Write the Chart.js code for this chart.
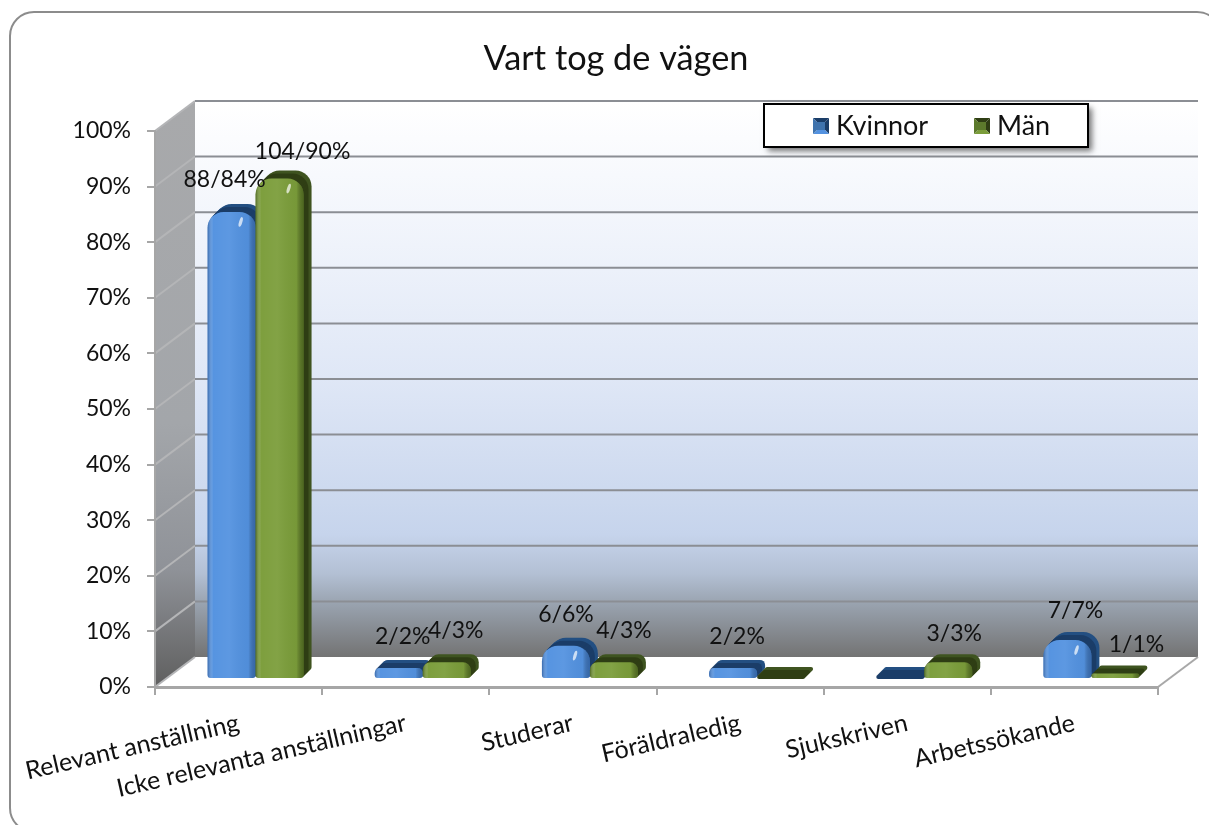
<!DOCTYPE html>
<html>
<head>
<meta charset="utf-8">
<title>Vart tog de vägen</title>
<script src="https://cdn.jsdelivr.net/npm/chart.js@4/dist/chart.umd.min.js"></script>
<style>
    body { margin: 0; background: #fff; }
    canvas { display: block; }
</style>
</head>
<body>
<canvas id="chart" width="1209" height="825"></canvas>
<script>
// data
const categories = ['Relevant anställning', 'Icke relevanta anställningar', 'Studerar', 'Föräldraledig', 'Sjukskriven', 'Arbetssökande'];
const kvinnor = [84, 2, 6, 2, 0, 7];
const man = [90, 3, 3, 0, 3, 1];
const kvinnorLabels = ['88/84%', '2/2%', '6/6%', '2/2%', '', '7/7%'];
const manLabels = ['104/90%', '4/3%', '4/3%', '', '3/3%', '1/1%'];
const yTicks = [0, 10, 20, 30, 40, 50, 60, 70, 80, 90, 100];

// label nudges from the top of each bar, the original labels were moved by hand
const kvinnorNudge = [[10, -40], [21, -39], [17, -39], [21, -39], [0, 0], [25, -37]];
const manNudge = [[40, -35], [26, -40], [27, -40], [0, 0], [23, -37], [38, -37]];

// 3d look
const wallDx = 40, wallDy = -30;
const barDx = 17, barDy = -8;
const depth = 8;
const fontName = 'Lato, Carlito, sans-serif';
const textColor = '#111';

const colors = [
    { front: '#5392e0', edge: 'rgba(30,70,130,0.55)', top: '#234f82', side: '#1b3d68', key: '#3f73ad' },
    { front: '#7b9d3a', edge: 'rgba(40,60,10,0.55)', top: '#3f5420', side: '#2f3e14', key: '#5c7a2c' }
];

function barPath(ctx, x, y, w, h, rTop, rBottom) {
    const max = Math.min(w, h) / 2;
    ctx.beginPath();
    ctx.roundRect(x, y, w, h, [Math.min(rTop, max), Math.min(rTop, max), Math.min(rBottom, max), Math.min(rBottom, max)]);
}

function drawBar(ctx, el, c) {
    const w = el.width;
    const left = el.x - w / 2;
    const flat = el.base - el.y < 1;
    const h = flat ? 4 : el.base - el.y;
    const top = el.base - h;

    // depth: the same outline shifted backwards
    for (let k = depth; k >= 1; k--) {
        ctx.fillStyle = k > depth - 3 ? c.top : c.side;
        barPath(ctx, left + k, top - k, w, h, 16, 3);
        ctx.fill();
    }
    if (flat) {
        // empty bar, only the dark lid shows
        ctx.fillStyle = c.side;
        barPath(ctx, left, top, w, h, 2, 2);
        ctx.fill();
        return;
    }

    el.draw(ctx);

    // round shading on the front
    const shade = ctx.createLinearGradient(left, 0, left + w, 0);
    shade.addColorStop(0, c.edge);
    shade.addColorStop(0.12, 'rgba(255,255,255,0.02)');
    shade.addColorStop(0.45, 'rgba(255,255,255,0.06)');
    shade.addColorStop(0.85, 'rgba(0,0,0,0.03)');
    shade.addColorStop(1, c.edge);
    ctx.fillStyle = shade;
    barPath(ctx, left, top, w, h, 16, 3);
    ctx.fill();

    if (h > 20) {
        ctx.fillStyle = 'rgba(255,255,255,0.7)';
        ctx.beginPath();
        ctx.ellipse(left + w * 0.69, top + 10, 1.6, 5, 0.3, 0, Math.PI * 2);
        ctx.fill();
    }
}

const threeD = {
    id: 'threeD',
    beforeDraw(chart) {
        const { ctx, chartArea: a, scales: { y } } = chart;
        const x0 = a.left, x1 = a.right;
        const bx0 = x0 + wallDx, bx1 = x1 + wallDx;
        const yb = y.getPixelForValue(0), yt = y.getPixelForValue(100);

        ctx.save();
        ctx.fillStyle = '#fff';
        ctx.fillRect(0, 0, chart.width, chart.height);

        // rounded frame of the chart object, it runs off the right and bottom
        ctx.strokeStyle = '#8c8c8c';
        ctx.lineWidth = 2;
        ctx.beginPath();
        ctx.roundRect(10, 12, 1211, 820, 24);
        ctx.stroke();

        // back wall
        const wall = ctx.createLinearGradient(0, yt + wallDy, 0, yb + wallDy);
        wall.addColorStop(0, '#ffffff');
        wall.addColorStop(0.2, '#f3f6fc');
        wall.addColorStop(0.5, '#dfe7f6');
        wall.addColorStop(0.78, '#c6d4ec');
        wall.addColorStop(0.85, '#b3c0d4');
        wall.addColorStop(0.9, '#9ba5b2');
        wall.addColorStop(1, '#737373');
        ctx.fillStyle = wall;
        ctx.fillRect(bx0, yt + wallDy, bx1 - bx0, yb - yt);

        // side wall
        const side = ctx.createLinearGradient(0, yt + wallDy, 0, yb);
        side.addColorStop(0, '#a8a9ab');
        side.addColorStop(0.55, '#a3a6aa');
        side.addColorStop(0.8, '#8f9298');
        side.addColorStop(1, '#5f5f5f');
        ctx.fillStyle = side;
        ctx.beginPath();
        ctx.moveTo(x0, yt);
        ctx.lineTo(bx0, yt + wallDy);
        ctx.lineTo(bx0, yb + wallDy);
        ctx.lineTo(x0, yb);
        ctx.closePath();
        ctx.fill();

        // gridlines over both walls
        ctx.lineWidth = 2;
        yTicks.forEach(v => {
            const py = y.getPixelForValue(v);
            ctx.strokeStyle = '#b4b5b7';
            ctx.beginPath();
            ctx.moveTo(x0, py);
            ctx.lineTo(bx0, py + wallDy);
            ctx.stroke();
            if (v > 0) {
                ctx.strokeStyle = '#8b8e94';
                ctx.beginPath();
                ctx.moveTo(bx0, py + wallDy);
                ctx.lineTo(bx1, py + wallDy);
                ctx.stroke();
            }
        });

        // floor edge on the right
        ctx.strokeStyle = '#a8a8a8';
        ctx.beginPath();
        ctx.moveTo(x1, yb);
        ctx.lineTo(bx1, yb + wallDy);
        ctx.stroke();
        ctx.restore();
    },
    beforeDatasetsDraw(chart) {
        const { ctx } = chart;
        ctx.save();
        ctx.translate(barDx, barDy);
        // blue first so the green bar overlaps it
        [0, 1].forEach(i => {
            const elements = chart.getDatasetMeta(i).data;
            elements.forEach(el => drawBar(ctx, el, colors[i]));
        });
        ctx.restore();

        // data labels
        ctx.save();
        ctx.font = '23px ' + fontName;
        ctx.fillStyle = textColor;
        ctx.textAlign = 'center';
        ctx.textBaseline = 'middle';
        [[kvinnorLabels, kvinnorNudge], [manLabels, manNudge]].forEach((set, i) => {
            chart.getDatasetMeta(i).data.forEach((el, j) => {
                if (set[0][j]) ctx.fillText(set[0][j], el.x + set[1][j][0], el.y + set[1][j][1]);
            });
        });
        ctx.restore();
        return false;
    },
    afterDraw(chart) {
        const { ctx } = chart;
        ctx.save();
        // legend box
        ctx.shadowColor = 'rgba(0,0,0,0.55)';
        ctx.shadowBlur = 6;
        ctx.shadowOffsetX = 4;
        ctx.shadowOffsetY = 4;
        ctx.fillStyle = '#fff';
        ctx.fillRect(764, 104, 324, 43);
        ctx.shadowColor = 'transparent';
        ctx.strokeStyle = '#000';
        ctx.lineWidth = 2;
        ctx.strokeRect(764, 104, 324, 43);

        const keyX = [813, 974];
        ctx.font = '27px ' + fontName;
        ctx.textBaseline = 'middle';
        chart.data.datasets.forEach((ds, i) => {
            const c = colors[i];
            const kx = keyX[i], ky = 118, s = 16, m = s / 2;
            // little pyramid: four sides around the middle of the square
            const corners = [[kx, ky], [kx + s, ky], [kx + s, ky + s], [kx, ky + s]];
            [c.side, c.side, c.front, c.key].forEach((col, n) => {
                const p = corners[n], q = corners[(n + 1) % 4];
                ctx.fillStyle = col;
                ctx.beginPath();
                ctx.moveTo(p[0], p[1]);
                ctx.lineTo(q[0], q[1]);
                ctx.lineTo(kx + m, ky + m);
                ctx.closePath();
                ctx.fill();
            });
            ctx.fillStyle = c.key;
            ctx.fillRect(kx + 4, ky + 4, s - 8, s - 8);
            ctx.fillStyle = textColor;
            ctx.fillText(ds.label, kx + 23, 126);
        });
        ctx.restore();
    }
};

new Chart(document.getElementById('chart'), {
    type: 'bar',
    data: {
        labels: categories,
        datasets: [
            {
                label: 'Kvinnor',
                data: kvinnor,
                backgroundColor: colors[0].front,
                borderSkipped: false,
                borderRadius: { topLeft: 16, topRight: 16, bottomLeft: 3, bottomRight: 3 }
            },
            {
                label: 'Män',
                data: man,
                backgroundColor: colors[1].front,
                borderSkipped: false,
                borderRadius: { topLeft: 16, topRight: 16, bottomLeft: 3, bottomRight: 3 }
            }
        ]
    },
    options: {
        responsive: false,
        animation: false,
        categoryPercentage: 0.574,
        barPercentage: 1,
        layout: { padding: { left: 74, right: 51, top: 0, bottom: 0 } },
        plugins: {
            legend: { display: false },
            tooltip: { enabled: false },
            title: {
                display: true,
                text: 'Vart tog de vägen',
                color: textColor,
                font: { family: fontName, size: 34.3, weight: 'normal', lineHeight: 1.2 },
                padding: { top: 38, bottom: 51.8 }
            }
        },
        scales: {
            x: {
                afterFit(scale) {
                    scale.height = 138;
                    // long first label must not push the plot to the right
                    scale.paddingLeft = 0;
                    scale.paddingRight = 0;
                },
                grid: { drawOnChartArea: false, color: '#a6a6a6', lineWidth: 2, tickLength: 8 },
                border: { color: '#a6a6a6', width: 3 },
                ticks: {
                    autoSkip: false,
                    minRotation: 13,
                    maxRotation: 13,
                    padding: 13,
                    color: textColor,
                    font: { family: fontName, size: 25 }
                }
            },
            y: {
                min: 0,
                max: 100,
                afterFit(scale) { scale.width = 81; },
                afterBuildTicks(scale) { scale.ticks = yTicks.map(v => ({ value: v })); },
                grid: { drawOnChartArea: false, color: '#a6a6a6', lineWidth: 2, tickLength: 8 },
                border: { color: '#a6a6a6', width: 2 },
                ticks: {
                    padding: 16,
                    color: textColor,
                    font: { family: fontName, size: 23 },
                    callback: v => v + '%'
                }
            }
        }
    },
    plugins: [threeD]
});
</script>
</body>
</html>
